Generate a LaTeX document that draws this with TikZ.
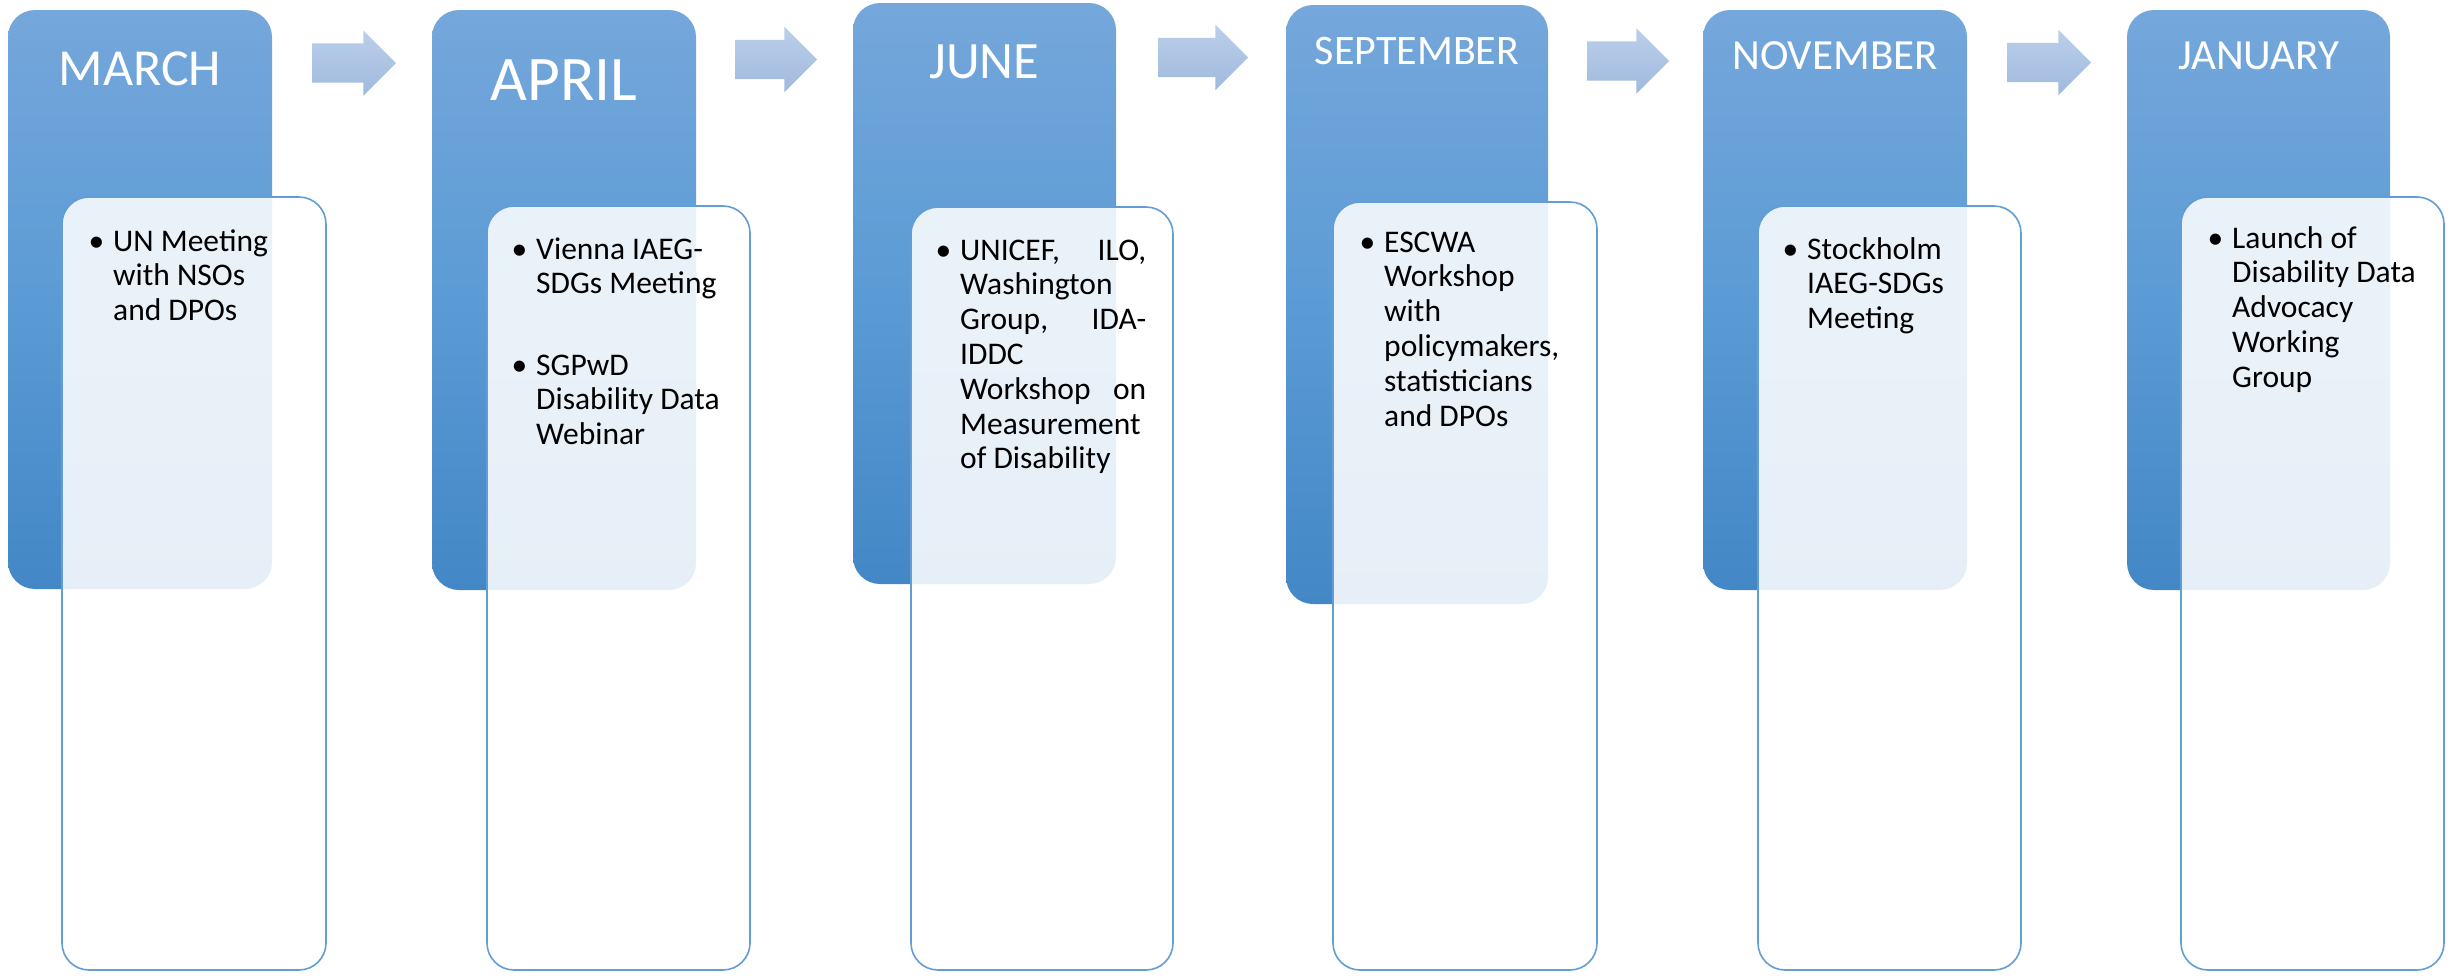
\documentclass[tikz,border=0pt]{standalone}
\usepackage{fontspec}
\setmainfont{Carlito}
\usetikzlibrary{shapes.arrows}

\definecolor{bluetop}{RGB}{117,167,219}
\definecolor{bluemid}{RGB}{91,155,213}
\definecolor{bluebot}{RGB}{67,135,198}
\definecolor{arrtop}{RGB}{186,207,234}
\definecolor{arrbot}{RGB}{160,185,221}
\definecolor{cardline}{RGB}{98,157,214}

\tikzset{
  monthbox/.style={rectangle, rounded corners=27pt, inner sep=0pt, outer sep=0pt,
    top color=bluetop, bottom color=bluebot, middle color=bluemid, draw=none},
  eventcard/.style={rectangle, rounded corners=27pt, inner sep=0pt, outer sep=0pt,
    fill=white, fill opacity=0.87, draw=cardline, draw opacity=1, line width=1.6pt},
  steparrow/.style={single arrow, single arrow head extend=13pt, minimum width=65pt,
    inner xsep=0pt, inner ysep=19.5pt, outer sep=0pt,
    top color=arrtop, bottom color=arrbot, draw=none, anchor=tail},
  monthlabel/.style={text=white, anchor=base, inner sep=0pt},
  eventtext/.style={anchor=base west, inner sep=0pt, text=black,
    font=\fontsize{31.5}{34.8}\selectfont},
}

% rounded box given by its corners (x1,y1) and (x2,y2)
\newcommand\cornerbox[6]{%
  \node[#2, minimum width={(#5)-(#3)}, minimum height={(#6)-(#4)}]
    (#1) at ({((#3)+(#5))/2},{((#4)+(#6))/2}) {};}
\newcommand\bul{\leavevmode\llap{•\hspace{9pt}}}

\begin{document}
\begin{tikzpicture}[x=1pt, y=-1pt]
\useasboundingbox (0,0) rectangle (2458,978);

% month columns
\cornerbox{m1}{monthbox}{8}{10}{272}{589}
\cornerbox{m2}{monthbox}{432}{10}{696}{590}
\cornerbox{m3}{monthbox}{853}{3}{1116}{584}
\cornerbox{m4}{monthbox}{1286}{5}{1548}{604}
\cornerbox{m5}{monthbox}{1703}{10}{1967}{590}
\cornerbox{m6}{monthbox}{2127}{10}{2390}{590}

% arrows between months
\node[steparrow, minimum height=84pt] (a1) at (312,63) {};
\node[steparrow, minimum height=82pt] (a2) at (735,59.5) {};
\node[steparrow, minimum height=90pt] (a3) at (1158,57.5) {};
\node[steparrow, minimum height=82pt] (a4) at (1587,61) {};
\node[steparrow, minimum height=84pt] (a5) at (2007,62.5) {};

% event cards
\cornerbox{c1}{eventcard}{62}{197}{326}{970}
\cornerbox{c2}{eventcard}{487}{206}{750}{970}
\cornerbox{c3}{eventcard}{911}{207}{1173}{970}
\cornerbox{c4}{eventcard}{1333}{202}{1597}{970}
\cornerbox{c5}{eventcard}{1758}{206}{2021}{970}
\cornerbox{c6}{eventcard}{2181}{197}{2444}{970}

% month names
\node[monthlabel, font=\fontsize{52}{60}\selectfont] (t1) at (140,85) {MARCH};
\node[monthlabel, font=\fontsize{63.5}{70}\selectfont] (t2) at (564,100) {APRIL};
\node[monthlabel, font=\fontsize{52.5}{60}\selectfont] (t3) at (984.5,78) {JUNE};
\node[monthlabel, font=\fontsize{42}{50}\selectfont] (t4) at (1417,64) {SEPTEMBER};
\node[monthlabel, font=\fontsize{43}{50}\selectfont] (t5) at (1835,69) {NOVEMBER};
\node[monthlabel, font=\fontsize{43}{50}\selectfont] (t6) at (2258.5,69) {JANUARY};

% events
\node[eventtext] (e1) at (113,251) {\parbox[t]{210pt}{\raggedright
  \bul UN Meeting\\with NSOs\\and DPOs}};
\node[eventtext] (e2a) at (536,259) {\parbox[t]{210pt}{\raggedright
  \bul Vienna IAEG-\\SDGs Meeting}};
\node[eventtext] (e2b) at (536,375) {\parbox[t]{210pt}{\raggedright
  \bul SGPwD\\Disability Data\\Webinar}};
\node[eventtext] (e3) at (960,260) {\parbox[t]{186pt}{%
  \bul UNICEF,\hfill ILO,\\Washington\\Group,\hfill IDA-\\IDDC\\Workshop\hfill on\\Measurement\\of Disability}};
\node[eventtext] (e4) at (1384,252) {\parbox[t]{210pt}{\raggedright
  \bul ESCWA\\Workshop\\with\\policymakers,\\statisticians\\and DPOs}};
\node[eventtext] (e5) at (1807,259) {\parbox[t]{210pt}{\raggedright
  \bul Stockholm\\IAEG-SDGs\\Meeting}};
\node[eventtext] (e6) at (2232,248) {\parbox[t]{210pt}{\raggedright
  \bul Launch of\\Disability Data\\Advocacy\\Working\\Group}};
\end{tikzpicture}
\end{document}
